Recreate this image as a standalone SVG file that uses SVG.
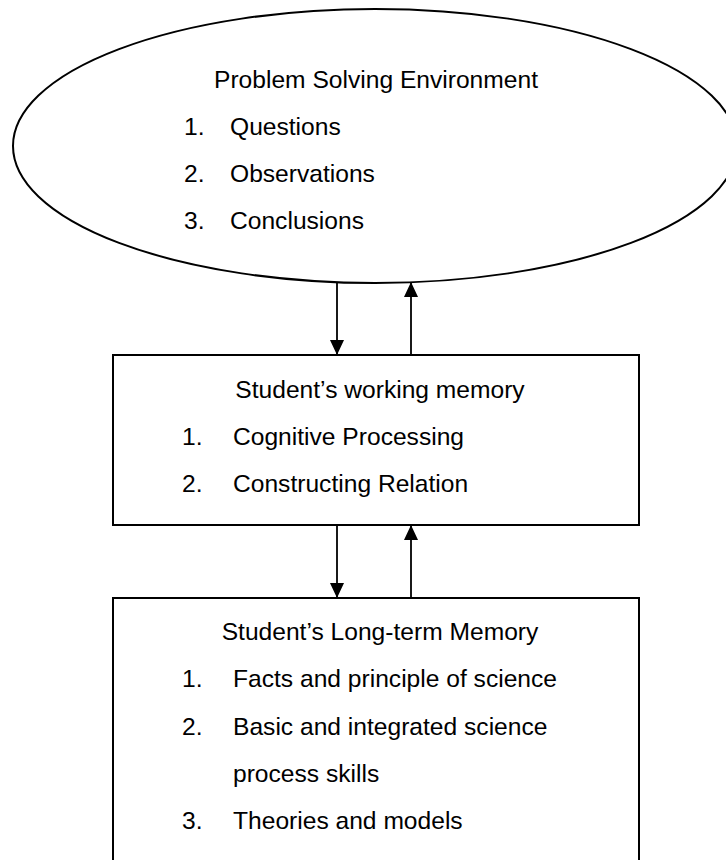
<svg xmlns="http://www.w3.org/2000/svg" width="726" height="860" viewBox="0 0 726 860">
  <defs>
    <style>
      .shape { fill: none; stroke: #000; stroke-width: 2; }
      .link { fill: none; stroke: #000; stroke-width: 1.8; }
      .t { font-family: "Liberation Sans", Arial, sans-serif; font-size: 24.6px; fill: #000; }
      .head { text-anchor: middle; }
    </style>
    <marker id="arrow" viewBox="0 0 15 14" refX="15" refY="7" markerWidth="15" markerHeight="14" markerUnits="userSpaceOnUse" orient="auto">
      <path d="M0,0 L15,7 L0,14 Z" fill="#000"/>
    </marker>
  </defs>
  <rect width="726" height="860" fill="#fff"/>

  <!-- Problem solving environment (right edge runs past the page) -->
  <g id="environment">
    <ellipse class="shape" cx="375" cy="146" rx="362" ry="137"/>
    <text class="t head" x="376" y="88">Problem Solving Environment</text>
    <text class="t" x="184" y="135">1.</text>
    <text class="t" x="230" y="135">Questions</text>
    <text class="t" x="184" y="182">2.</text>
    <text class="t" x="230" y="182">Observations</text>
    <text class="t" x="184" y="229">3.</text>
    <text class="t" x="230" y="229">Conclusions</text>
  </g>

  <!-- Working memory -->
  <g id="working-memory">
    <rect class="shape" x="113" y="355" width="526" height="170"/>
    <text class="t head" x="380" y="398">Student’s working memory</text>
    <text class="t" x="182" y="445">1.</text>
    <text class="t" x="233" y="445">Cognitive Processing</text>
    <text class="t" x="182" y="492">2.</text>
    <text class="t" x="233" y="492">Constructing Relation</text>
  </g>

  <!-- Long-term memory (runs past the bottom edge) -->
  <g id="long-term-memory">
    <rect class="shape" x="113" y="598" width="526" height="280"/>
    <text class="t head" x="380" y="640">Student’s Long-term Memory</text>
    <text class="t" x="182" y="687">1.</text>
    <text class="t" x="233" y="687">Facts and principle of science</text>
    <text class="t" x="182" y="735">2.</text>
    <text class="t" x="233" y="735">Basic and integrated science</text>
    <text class="t" x="233" y="782">process skills</text>
    <text class="t" x="182" y="829">3.</text>
    <text class="t" x="233" y="829">Theories and models</text>
  </g>

  <!-- Connectors -->
  <g id="connectors">
    <line class="link" x1="337" y1="283" x2="337" y2="355" marker-end="url(#arrow)"/>
    <line class="link" x1="411" y1="355" x2="411" y2="282" marker-end="url(#arrow)"/>
    <line class="link" x1="337" y1="525" x2="337" y2="598" marker-end="url(#arrow)"/>
    <line class="link" x1="411" y1="598" x2="411" y2="525" marker-end="url(#arrow)"/>
  </g>
</svg>
